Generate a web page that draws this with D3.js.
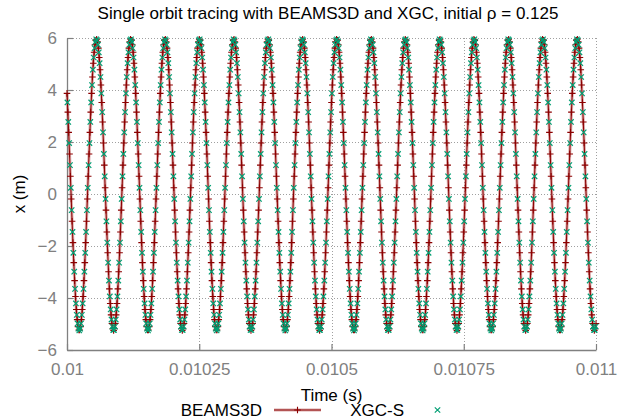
<!DOCTYPE html>
<html>
<head>
<meta charset="utf-8">
<script src="https://cdn.jsdelivr.net/npm/d3@7"></script>
<style>
  html, body { margin: 0; padding: 0; background: #fff; }
  svg { display: block; font-family: "Liberation Sans", Arial, Helvetica, sans-serif; }
</style>
</head>
<body>
<div id="chart"></div>
<script>
// Axis ticks
const xTicks = [0.01, 0.01025, 0.0105, 0.01075, 0.011];
const xTickLabels = ["0.01", "0.01025", "0.0105", "0.01075", "0.011"];
const yTicks = [-6, -4, -2, 0, 2, 4, 6];

// BEAMS3D orbit: x (m), sampled uniformly in time from beamsT0 with step beamsDt
const beamsT0 = 0.01, beamsDt = 1.6026e-6;
const beamsX = [
  3.87,3.15,2.37,1.54,0.68,-0.19,-1.05,-1.87,-2.64,-3.33,-3.94,-4.44,-4.83,-5.10,-5.23,-5.23,-5.10,-4.83,-4.44,-3.94,-3.33,-2.64,-1.87,-1.05,-0.19,0.68,1.54,2.37,3.15,3.87,4.50,5.03,5.45,5.74,5.91,
  5.95,5.85,5.61,5.25,4.78,4.19,3.52,2.77,1.96,1.11,0.24,-0.62,-1.46,-2.26,-2.99,-3.65,-4.21,-4.65,-4.98,-5.18,-5.25,-5.18,-4.98,-4.65,-4.21,-3.65,-2.99,-2.26,-1.46,-0.62,0.24,1.11,1.96,2.77,3.52,4.19,4.78,5.25,5.61,5.85,5.95,
  5.91,5.74,5.45,5.03,4.50,3.87,3.15,2.37,1.54,0.68,-0.19,-1.05,-1.87,-2.64,-3.33,-3.94,-4.44,-4.83,-5.10,-5.23,-5.23,-5.10,-4.83,-4.44,-3.94,-3.33,-2.64,-1.87,-1.05,-0.19,0.68,1.54,2.37,3.15,3.87,4.50,5.03,5.45,5.74,5.91,
  5.95,5.85,5.61,5.25,4.78,4.19,3.52,2.77,1.96,1.11,0.24,-0.62,-1.46,-2.26,-2.99,-3.65,-4.21,-4.65,-4.98,-5.18,-5.25,-5.18,-4.98,-4.65,-4.21,-3.65,-2.99,-2.26,-1.46,-0.62,0.24,1.11,1.96,2.77,3.52,4.19,4.78,5.25,5.61,5.85,5.95,
  5.91,5.74,5.45,5.03,4.50,3.87,3.15,2.37,1.54,0.68,-0.19,-1.05,-1.87,-2.64,-3.33,-3.94,-4.44,-4.83,-5.10,-5.23,-5.23,-5.10,-4.83,-4.44,-3.94,-3.33,-2.64,-1.87,-1.05,-0.19,0.68,1.54,2.37,3.15,3.87,4.50,5.03,5.45,5.74,5.91,
  5.95,5.85,5.61,5.25,4.78,4.19,3.52,2.77,1.96,1.11,0.24,-0.62,-1.46,-2.26,-2.99,-3.65,-4.21,-4.65,-4.98,-5.18,-5.25,-5.18,-4.98,-4.65,-4.21,-3.65,-2.99,-2.26,-1.46,-0.62,0.24,1.11,1.96,2.77,3.52,4.19,4.78,5.25,5.61,5.85,5.95,
  5.91,5.74,5.45,5.03,4.50,3.87,3.15,2.37,1.54,0.68,-0.19,-1.05,-1.87,-2.64,-3.33,-3.94,-4.44,-4.83,-5.10,-5.23,-5.23,-5.10,-4.83,-4.44,-3.94,-3.33,-2.64,-1.87,-1.05,-0.19,0.68,1.54,2.37,3.15,3.87,4.50,5.03,5.45,5.74,5.91,
  5.95,5.85,5.61,5.25,4.78,4.19,3.52,2.77,1.96,1.11,0.24,-0.62,-1.46,-2.26,-2.99,-3.65,-4.21,-4.65,-4.98,-5.18,-5.25,-5.18,-4.98,-4.65,-4.21,-3.65,-2.99,-2.26,-1.46,-0.62,0.24,1.11,1.96,2.77,3.52,4.19,4.78,5.25,5.61,5.85,5.95,
  5.91,5.74,5.45,5.03,4.50,3.87,3.15,2.37,1.54,0.68,-0.19,-1.05,-1.87,-2.64,-3.33,-3.94,-4.44,-4.83,-5.10,-5.23,-5.23,-5.10,-4.83,-4.44,-3.94,-3.33,-2.64,-1.87,-1.05,-0.19,0.68,1.54,2.37,3.15,3.87,4.50,5.03,5.45,5.74,5.91,
  5.95,5.85,5.61,5.25,4.78,4.19,3.52,2.77,1.96,1.11,0.24,-0.62,-1.46,-2.26,-2.99,-3.65,-4.21,-4.65,-4.98,-5.18,-5.25,-5.18,-4.98,-4.65,-4.21,-3.65,-2.99,-2.26,-1.46,-0.62,0.24,1.11,1.96,2.77,3.52,4.19,4.78,5.25,5.61,5.85,5.95,
  5.91,5.74,5.45,5.03,4.50,3.87,3.15,2.37,1.54,0.68,-0.19,-1.05,-1.87,-2.64,-3.33,-3.94,-4.44,-4.83,-5.10,-5.23,-5.23,-5.10,-4.83,-4.44,-3.94,-3.33,-2.64,-1.87,-1.05,-0.19,0.68,1.54,2.37,3.15,3.87,4.50,5.03,5.45,5.74,5.91,
  5.95,5.85,5.61,5.25,4.78,4.19,3.52,2.77,1.96,1.11,0.24,-0.62,-1.46,-2.26,-2.99,-3.65,-4.21,-4.65,-4.98,-5.18,-5.25,-5.18,-4.98,-4.65,-4.21,-3.65,-2.99,-2.26,-1.46,-0.62,0.24,1.11,1.96,2.77,3.52,4.19,4.78,5.25,5.61,5.85,5.95,
  5.91,5.74,5.45,5.03,4.50,3.87,3.15,2.37,1.54,0.68,-0.19,-1.05,-1.87,-2.64,-3.33,-3.94,-4.44,-4.83,-5.10,-5.23,-5.23,-5.10,-4.83,-4.44,-3.94,-3.33,-2.64,-1.87,-1.05,-0.19,0.68,1.54,2.37,3.15,3.87,4.50,5.03,5.45,5.74,5.91,
  5.95,5.85,5.61,5.25,4.78,4.19,3.52,2.77,1.96,1.11,0.24,-0.62,-1.46,-2.26,-2.99,-3.65,-4.21,-4.65,-4.98,-5.18,-5.25,-5.18,-4.98,-4.65,-4.21,-3.65,-2.99,-2.26,-1.46,-0.62,0.24,1.11,1.96,2.77,3.52,4.19,4.78,5.25,5.61,5.85,5.95,
  5.91,5.74,5.45,5.03,4.50,3.87,3.15,2.37,1.54,0.68,-0.19,-1.05,-1.87,-2.64,-3.33,-3.94,-4.44,-4.83,-5.10,-5.23,-5.23,-5.10,-4.83,-4.44,-3.94,-3.33,-2.64,-1.87,-1.05,-0.19,0.68,1.54,2.37,3.15,3.87,4.50,5.03,5.45,5.74,5.91,
  5.95,5.85,5.61,5.25,4.78,4.19,3.52,2.77,1.96,1.11,0.24,-0.62,-1.46,-2.26,-2.99,-3.65,-4.21,-4.65,-4.98,-5.18,-5.25,-5.18,-4.98
];

// XGC-S orbit: x (m), sampled uniformly in time from xgcT0 with step xgcDt
const xgcT0 = 0.0100008, xgcDt = 1.6026e-6;
const xgcX = [
  3.52,2.77,1.96,1.11,0.24,-0.62,-1.46,-2.26,-2.99,-3.65,-4.21,-4.65,-4.98,-5.18,-5.25,-5.18,-4.98,-4.65,-4.21,-3.65,-2.99,-2.26,-1.46,-0.62,0.24,1.11,1.96,2.77,3.52,4.19,4.78,5.25,5.61,5.85,5.95,
  5.91,5.74,5.45,5.03,4.50,3.87,3.15,2.37,1.54,0.68,-0.19,-1.05,-1.87,-2.64,-3.33,-3.94,-4.44,-4.83,-5.10,-5.23,-5.23,-5.10,-4.83,-4.44,-3.94,-3.33,-2.64,-1.87,-1.05,-0.19,0.68,1.54,2.37,3.15,3.87,4.50,5.03,5.45,5.74,5.91,
  5.95,5.85,5.61,5.25,4.78,4.19,3.52,2.77,1.96,1.11,0.24,-0.62,-1.46,-2.26,-2.99,-3.65,-4.21,-4.65,-4.98,-5.18,-5.25,-5.18,-4.98,-4.65,-4.21,-3.65,-2.99,-2.26,-1.46,-0.62,0.24,1.11,1.96,2.77,3.52,4.19,4.78,5.25,5.61,5.85,5.95,
  5.91,5.74,5.45,5.03,4.50,3.87,3.15,2.37,1.54,0.68,-0.19,-1.05,-1.87,-2.64,-3.33,-3.94,-4.44,-4.83,-5.10,-5.23,-5.23,-5.10,-4.83,-4.44,-3.94,-3.33,-2.64,-1.87,-1.05,-0.19,0.68,1.54,2.37,3.15,3.87,4.50,5.03,5.45,5.74,5.91,
  5.95,5.85,5.61,5.25,4.78,4.19,3.52,2.77,1.96,1.11,0.24,-0.62,-1.46,-2.26,-2.99,-3.65,-4.21,-4.65,-4.98,-5.18,-5.25,-5.18,-4.98,-4.65,-4.21,-3.65,-2.99,-2.26,-1.46,-0.62,0.24,1.11,1.96,2.77,3.52,4.19,4.78,5.25,5.61,5.85,5.95,
  5.91,5.74,5.45,5.03,4.50,3.87,3.15,2.37,1.54,0.68,-0.19,-1.05,-1.87,-2.64,-3.33,-3.94,-4.44,-4.83,-5.10,-5.23,-5.23,-5.10,-4.83,-4.44,-3.94,-3.33,-2.64,-1.87,-1.05,-0.19,0.68,1.54,2.37,3.15,3.87,4.50,5.03,5.45,5.74,5.91,
  5.95,5.85,5.61,5.25,4.78,4.19,3.52,2.77,1.96,1.11,0.24,-0.62,-1.46,-2.26,-2.99,-3.65,-4.21,-4.65,-4.98,-5.18,-5.25,-5.18,-4.98,-4.65,-4.21,-3.65,-2.99,-2.26,-1.46,-0.62,0.24,1.11,1.96,2.77,3.52,4.19,4.78,5.25,5.61,5.85,5.95,
  5.91,5.74,5.45,5.03,4.50,3.87,3.15,2.37,1.54,0.68,-0.19,-1.05,-1.87,-2.64,-3.33,-3.94,-4.44,-4.83,-5.10,-5.23,-5.23,-5.10,-4.83,-4.44,-3.94,-3.33,-2.64,-1.87,-1.05,-0.19,0.68,1.54,2.37,3.15,3.87,4.50,5.03,5.45,5.74,5.91,
  5.95,5.85,5.61,5.25,4.78,4.19,3.52,2.77,1.96,1.11,0.24,-0.62,-1.46,-2.26,-2.99,-3.65,-4.21,-4.65,-4.98,-5.18,-5.25,-5.18,-4.98,-4.65,-4.21,-3.65,-2.99,-2.26,-1.46,-0.62,0.24,1.11,1.96,2.77,3.52,4.19,4.78,5.25,5.61,5.85,5.95,
  5.91,5.74,5.45,5.03,4.50,3.87,3.15,2.37,1.54,0.68,-0.19,-1.05,-1.87,-2.64,-3.33,-3.94,-4.44,-4.83,-5.10,-5.23,-5.23,-5.10,-4.83,-4.44,-3.94,-3.33,-2.64,-1.87,-1.05,-0.19,0.68,1.54,2.37,3.15,3.87,4.50,5.03,5.45,5.74,5.91,
  5.95,5.85,5.61,5.25,4.78,4.19,3.52,2.77,1.96,1.11,0.24,-0.62,-1.46,-2.26,-2.99,-3.65,-4.21,-4.65,-4.98,-5.18,-5.25,-5.18,-4.98,-4.65,-4.21,-3.65,-2.99,-2.26,-1.46,-0.62,0.24,1.11,1.96,2.77,3.52,4.19,4.78,5.25,5.61,5.85,5.95,
  5.91,5.74,5.45,5.03,4.50,3.87,3.15,2.37,1.54,0.68,-0.19,-1.05,-1.87,-2.64,-3.33,-3.94,-4.44,-4.83,-5.10,-5.23,-5.23,-5.10,-4.83,-4.44,-3.94,-3.33,-2.64,-1.87,-1.05,-0.19,0.68,1.54,2.37,3.15,3.87,4.50,5.03,5.45,5.74,5.91,
  5.95,5.85,5.61,5.25,4.78,4.19,3.52,2.77,1.96,1.11,0.24,-0.62,-1.46,-2.26,-2.99,-3.65,-4.21,-4.65,-4.98,-5.18,-5.25,-5.18,-4.98,-4.65,-4.21,-3.65,-2.99,-2.26,-1.46,-0.62,0.24,1.11,1.96,2.77,3.52,4.19,4.78,5.25,5.61,5.85,5.95,
  5.91,5.74,5.45,5.03,4.50,3.87,3.15,2.37,1.54,0.68,-0.19,-1.05,-1.87,-2.64,-3.33,-3.94,-4.44,-4.83,-5.10,-5.23,-5.23,-5.10,-4.83,-4.44,-3.94,-3.33,-2.64,-1.87,-1.05,-0.19,0.68,1.54,2.37,3.15,3.87,4.50,5.03,5.45,5.74,5.91,
  5.95,5.85,5.61,5.25,4.78,4.19,3.52,2.77,1.96,1.11,0.24,-0.62,-1.46,-2.26,-2.99,-3.65,-4.21,-4.65,-4.98,-5.18,-5.25,-5.18,-4.98,-4.65,-4.21,-3.65,-2.99,-2.26,-1.46,-0.62,0.24,1.11,1.96,2.77,3.52,4.19,4.78,5.25,5.61,5.85,5.95,
  5.91,5.74,5.45,5.03,4.50,3.87,3.15,2.37,1.54,0.68,-0.19,-1.05,-1.87,-2.64,-3.33,-3.94,-4.44,-4.83,-5.10,-5.23,-5.23,-5.10
];

const W = 634, H = 419;
const plot = { left: 67, right: 596, top: 38, bottom: 350 };
const FONT = 17;
const AXIS_GRAY = "#808080";
const RED = "#8b0000";
const GREEN = "#009e73";

const beams = beamsX.map((v, i) => ({ t: beamsT0 + i * beamsDt, v }));
const xgc = xgcX.map((v, i) => ({ t: xgcT0 + i * xgcDt, v }));

const x = d3.scaleLinear().domain([0.01, 0.011]).range([plot.left, plot.right]);
const y = d3.scaleLinear().domain([-6, 6]).range([plot.bottom, plot.top]);

const svg = d3.select("#chart").append("svg")
  .attr("width", W).attr("height", H)
  .attr("viewBox", `0 0 ${W} ${H}`);

// Dotted grid at every tick
const grid = svg.append("g").attr("class", "grid")
  .attr("stroke", "#a0a0a0").attr("stroke-width", 1).attr("stroke-dasharray", "1,2");
grid.selectAll("line.gx").data(xTicks).join("line")
  .attr("class", "gx")
  .attr("x1", d => Math.round(x(d)) + 0.5).attr("x2", d => Math.round(x(d)) + 0.5)
  .attr("y1", plot.top).attr("y2", plot.bottom);
grid.selectAll("line.gy").data(yTicks).join("line")
  .attr("class", "gy")
  .attr("y1", d => Math.round(y(d)) + 0.5).attr("y2", d => Math.round(y(d)) + 0.5)
  .attr("x1", plot.left).attr("x2", plot.right);

// Axes: left and bottom border with inward ticks
const xAxis = d3.axisBottom(x)
  .tickValues(xTicks)
  .tickFormat((d, i) => xTickLabels[i])
  .tickSizeInner(-6).tickSizeOuter(0).tickPadding(12.5);
const yAxis = d3.axisLeft(y)
  .tickValues(yTicks)
  .tickFormat(d3.format("d"))
  .tickSizeInner(-6).tickSizeOuter(0).tickPadding(10);

function styleAxis(g) {
  g.attr("font-family", null).attr("font-size", FONT);
  g.select(".domain").attr("stroke", AXIS_GRAY).attr("stroke-width", 1.3);
  g.selectAll(".tick line").attr("stroke", AXIS_GRAY).attr("stroke-width", 1.2);
  g.selectAll(".tick text").attr("fill", AXIS_GRAY);
}
svg.append("g").attr("transform", `translate(0,${plot.bottom})`).call(xAxis).call(styleAxis);
svg.append("g").attr("transform", `translate(${plot.left},0)`).call(yAxis).call(styleAxis);

// Marker shapes
const plusPath = s => `M${-s},0H${s}M0,${-s}V${s}`;
const timesPath = s => `M${-s},${-s}L${s},${s}M${-s},${s}L${s},${-s}`;

// BEAMS3D: line with + markers
const line = d3.line().x(d => x(d.t)).y(d => y(d.v));
const gB = svg.append("g").attr("class", "beams3d");
gB.append("path").datum(beams)
  .attr("fill", "none").attr("stroke", "#b04040").attr("stroke-opacity", 0.45)
  .attr("stroke-width", 3).attr("stroke-linejoin", "round").attr("d", line);
gB.append("path").datum(beams)
  .attr("fill", "none").attr("stroke", RED)
  .attr("stroke-width", 1).attr("stroke-linejoin", "round").attr("d", line);
gB.selectAll("path.pt").data(beams).join("path")
  .attr("class", "pt")
  .attr("transform", d => `translate(${x(d.t)},${y(d.v)})`)
  .attr("d", plusPath(3.3))
  .attr("fill", "none").attr("stroke", RED).attr("stroke-width", 1.1);

// XGC-S: × markers only
const gX = svg.append("g").attr("class", "xgc");
gX.selectAll("path.pt").data(xgc).join("path")
  .attr("class", "pt")
  .attr("transform", d => `translate(${x(d.t)},${y(d.v)})`)
  .attr("d", timesPath(2.7))
  .attr("fill", "none").attr("stroke", GREEN).attr("stroke-width", 1.2);

// Title and axis labels
svg.append("text")
  .attr("x", 328).attr("y", 19)
  .attr("text-anchor", "middle").attr("font-size", FONT).attr("fill", "#000")
  .text("Single orbit tracing with BEAMS3D and XGC, initial ρ = 0.125");
svg.append("text")
  .attr("x", (plot.left + plot.right) / 2).attr("y", 401)
  .attr("text-anchor", "middle").attr("font-size", FONT).attr("fill", "#000")
  .text("Time (s)");
svg.append("text")
  .attr("transform", `translate(25,${(plot.top + plot.bottom) / 2}) rotate(-90)`)
  .attr("text-anchor", "middle").attr("font-size", FONT).attr("fill", "#000")
  .text("x (m)");

// Key
const keyY = 410;
const key = svg.append("g").attr("class", "key").attr("font-size", FONT);
key.append("text").attr("x", 262).attr("y", keyY + 6)
  .attr("text-anchor", "end").attr("fill", "#000").text("BEAMS3D");
key.append("line").attr("x1", 274).attr("x2", 321).attr("y1", keyY).attr("y2", keyY)
  .attr("stroke", "#b04040").attr("stroke-opacity", 0.45).attr("stroke-width", 3);
key.append("line").attr("x1", 274).attr("x2", 321).attr("y1", keyY).attr("y2", keyY)
  .attr("stroke", RED).attr("stroke-width", 1);
key.append("path").attr("transform", `translate(297.5,${keyY})`)
  .attr("d", plusPath(3.3)).attr("fill", "none").attr("stroke", RED).attr("stroke-width", 1.1);
key.append("text").attr("x", 404).attr("y", keyY + 6)
  .attr("text-anchor", "end").attr("fill", "#000").text("XGC-S");
key.append("path").attr("transform", `translate(437.5,${keyY})`)
  .attr("d", timesPath(2.7)).attr("fill", "none").attr("stroke", GREEN).attr("stroke-width", 1.2);
</script>
</body>
</html>
